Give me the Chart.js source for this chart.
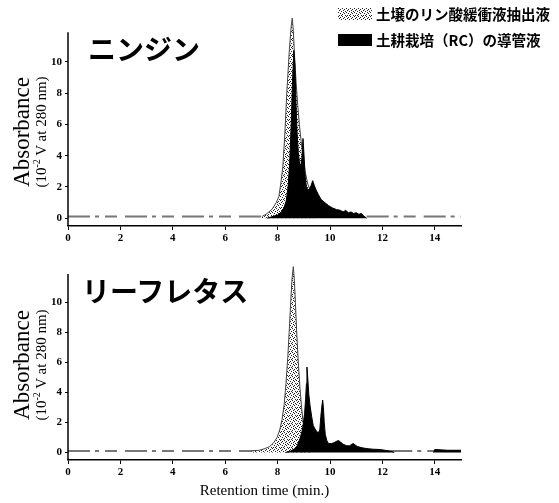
<!DOCTYPE html>
<html><head><meta charset="utf-8">
<script src="https://cdn.jsdelivr.net/npm/chart.js@4.4.0/dist/chart.umd.min.js"></script>
<style>
html,body{margin:0;padding:0;background:#fff;}
#wrap{position:relative;width:559px;height:503px;overflow:hidden;background:#fff;}
canvas{position:absolute;left:0;}
#c1{top:0;} #c2{top:248px;}
.jt{position:absolute;font-family:"Noto Sans CJK JP";font-weight:700;font-size:28px;line-height:1;color:#000;white-space:nowrap;}
.yt{position:absolute;font-family:"Liberation Serif";color:#000;white-space:nowrap;transform:translate(-50%,-50%) rotate(-90deg);line-height:1;}
.lg{position:absolute;left:338px;font-family:"Noto Sans CJK JP";font-weight:700;font-size:14.5px;line-height:1;display:flex;align-items:center;white-space:nowrap;}
.sw{display:inline-block;width:34px;height:12px;margin-right:4px;}
</style></head>
<body>
<div id="wrap">
<canvas id="c1" width="559" height="248"></canvas>
<canvas id="c2" width="559" height="255"></canvas>
<div class="jt" style="left:88px;top:34px;">ニンジン</div>
<div class="jt" style="left:82px;top:276px;">リーフレタス</div>
<div class="yt" style="left:21px;top:132px;font-size:23px;">Absorbance</div>
<div class="yt" style="left:40px;top:132px;font-size:15px;">(10<sup style="font-size:10px">-2</sup> V at 280 nm)</div>
<div class="yt" style="left:21px;top:365px;font-size:23px;">Absorbance</div>
<div class="yt" style="left:40px;top:365px;font-size:15px;">(10<sup style="font-size:10px">-2</sup> V at 280 nm)</div>
<div class="lg" style="top:7px;"><span class="sw" id="sw1"></span><span id="lt1"></span></div>
<div class="lg" style="top:33px;"><span class="sw" style="background:#000"></span><span id="lt2"></span></div>
</div>
<script>
// ---- data ----
const seriesNames = ['土壌のリン酸緩衝液抽出液', '土耕栽培（RC）の導管液'];
const xTickVals = [0, 2, 4, 6, 8, 10, 12, 14];
const yTickVals = [0, 2, 4, 6, 8, 10];

// ニンジン (carrot)
const carrotSoilT = [7.4, 7.6, 7.8, 7.95, 8.05, 8.12, 8.2, 8.27, 8.35, 8.45, 8.52, 8.56, 8.6, 8.65, 8.71, 8.77, 8.83, 8.9, 8.97, 9.05, 9.15, 9.3, 9.5];
const carrotSoilV = [0.1, 0.3, 0.6, 1.0, 1.4, 2.2, 3.3, 5.2, 8.0, 10.8, 12.3, 12.8, 12.0, 10.3, 8.6, 7.2, 6.0, 4.9, 4.0, 3.0, 2.2, 1.5, 0.9];
const carrotRCT = [7.6, 7.8, 8.0, 8.15, 8.25, 8.33, 8.4, 8.46, 8.52, 8.57, 8.62, 8.66, 8.7, 8.74, 8.79, 8.84, 8.89, 8.93, 8.97, 9.01, 9.05, 9.1, 9.16, 9.22, 9.28, 9.34, 9.4, 9.47, 9.56, 9.66, 9.8, 9.95, 10.1, 10.25, 10.4, 10.5, 10.6, 10.7, 10.8, 10.9, 11.0, 11.1, 11.2, 11.3, 11.4];
const carrotRCV = [0, 0.1, 0.2, 0.4, 0.7, 1.1, 2.0, 3.5, 6.0, 8.8, 10.7, 9.8, 7.5, 5.6, 4.2, 3.5, 3.4, 3.9, 5.1, 4.0, 2.7, 2.0, 1.8, 1.9, 2.1, 2.4, 2.1, 1.8, 1.5, 1.2, 1.0, 0.8, 0.65, 0.55, 0.5, 0.4, 0.5, 0.35, 0.4, 0.3, 0.35, 0.25, 0.3, 0.12, 0];
const carrotBaseT = [0, 7.7, 9, 11.4, 15];
const carrotBaseV = [0.1, 0.1, null, 0.1, 0.1];

// リーフレタス (leaf lettuce)
const lettuceSoilT = [7.0, 7.3, 7.5, 7.7, 7.85, 7.98, 8.08, 8.17, 8.25, 8.32, 8.39, 8.45, 8.5, 8.55, 8.6, 8.64, 8.68, 8.73, 8.79, 8.85, 8.91, 8.97, 9.05, 9.15, 9.3];
const lettuceSoilV = [0.1, 0.15, 0.25, 0.4, 0.65, 1.0, 1.5, 2.2, 3.2, 4.6, 6.4, 8.3, 10.0, 11.6, 12.4, 11.5, 10.0, 8.0, 6.0, 4.4, 3.1, 2.1, 1.4, 0.8, 0.3];
const lettuceRCT = [8.3, 8.5, 8.65, 8.75, 8.85, 8.93, 8.98, 9.03, 9.07, 9.1, 9.12, 9.15, 9.19, 9.24, 9.3, 9.36, 9.45, 9.55, 9.61, 9.65, 9.69, 9.72, 9.75, 9.78, 9.82, 9.88, 9.94, 10.05, 10.15, 10.25, 10.32, 10.4, 10.5, 10.64, 10.75, 10.83, 10.89, 10.96, 11.05, 11.15, 11.27, 11.45, 11.65, 11.9, 12.1, 12.3, 12.45, 13.2, 13.95, 14.0, 14.5, 15.0];
const lettuceRCV = [0, 0.1, 0.25, 0.45, 0.9, 1.4, 1.9, 2.6, 3.6, 4.6, 5.7, 5.0, 3.9, 3.1, 2.4, 1.8, 1.5, 1.3, 1.5, 2.4, 3.1, 3.5, 3.0, 2.0, 1.2, 0.8, 0.6, 0.6, 0.65, 0.75, 0.8, 0.7, 0.55, 0.45, 0.45, 0.55, 0.6, 0.5, 0.4, 0.35, 0.3, 0.25, 0.22, 0.2, 0.15, 0.1, 0, null, 0, 0.2, 0.15, 0.15];
const lettuceBaseT = [0, 7.2, 9, 12.3, 15];
const lettuceBaseV = [0.1, 0.1, null, 0.1, 0.1];

const yAxisTop = 11.9;

// ---- helpers ----
const pts = (t, v) => t.map((x, i) => ({x: x, y: v[i]}));

function makeStipple() {
  const n = 8;
  const c = document.createElement('canvas'); c.width = n; c.height = n;
  const g = c.getContext('2d');
  g.fillStyle = '#fff'; g.fillRect(0, 0, n, n); g.fillStyle = '#222';
  const bits = ['10001000', '00100010', '01000100', '00010001', '10000100', '00100010', '00001000', '01010001'];
  bits.forEach((row, j) => [...row].forEach((b, i) => { if (b === '1') g.fillRect(i, j, 1, 1); }));
  return c;
}
const stippleCanvas = makeStipple();
document.getElementById('sw1').style.backgroundImage = 'url(' + stippleCanvas.toDataURL() + ')';
document.getElementById('lt1').textContent = seriesNames[0];
document.getElementById('lt2').textContent = seriesNames[1];

const yAxisLine = {
  id: 'yAxisLine',
  afterDatasetsDraw(chart, args, opts) {
    const {ctx, chartArea: a, scales: {y}} = chart;
    ctx.save();
    ctx.strokeStyle = '#000'; ctx.lineWidth = 1.5;
    ctx.beginPath();
    ctx.moveTo(a.left, a.bottom);
    ctx.lineTo(a.left, y.getPixelForValue(opts.top));
    ctx.stroke();
    ctx.restore();
  }
};

const tickFont = {family: 'Liberation Serif', size: 11, weight: 'bold'};

function makeChart(id, soilT, soilV, rcT, rcV, baseT, baseV, padTop, xHeight, showTitle) {
  const canvas = document.getElementById(id);
  const pattern = canvas.getContext('2d').createPattern(stippleCanvas, 'repeat');
  return new Chart(canvas, {
    type: 'line',
    data: {
      datasets: [
        {label: 'baseline', data: pts(baseT, baseV), borderColor: '#777', borderWidth: 2,
         borderDash: [22, 5, 4, 6, 12, 8], pointRadius: 0, fill: false, order: 3, spanGaps: false},
        {label: seriesNames[0], data: pts(soilT, soilV), borderColor: '#444', borderWidth: 1,
         backgroundColor: pattern, fill: 'origin', pointRadius: 0, order: 2},
        {label: seriesNames[1], data: pts(rcT, rcV), borderColor: '#000', borderWidth: 1,
         backgroundColor: '#000', fill: 'origin', pointRadius: 0, order: 1, spanGaps: false}
      ]
    },
    options: {
      responsive: false, animation: false, events: [],
      layout: {padding: {left: 0, right: 98, top: padTop, bottom: 0}},
      plugins: {legend: {display: false}, tooltip: {enabled: false}, yAxisLine: {top: yAxisTop}},
      scales: {
        x: {
          type: 'linear', min: 0, max: 15,
          afterBuildTicks: s => { s.ticks = xTickVals.map(v => ({value: v})); },
          afterFit: s => { s.height = xHeight; },
          grid: {drawOnChartArea: false, drawTicks: true, tickLength: 4, color: '#000'},
          border: {display: true, color: '#000', width: 1.5},
          ticks: {color: '#000', font: tickFont, padding: 2, maxRotation: 0, autoSkip: false},
          title: {display: showTitle, text: 'Retention time (min.)', color: '#000',
                  font: {family: 'Liberation Serif', size: 15}, padding: {top: 0, bottom: 3}}
        },
        y: {
          type: 'linear', min: -0.5, max: 13,
          afterBuildTicks: s => { s.ticks = yTickVals.map(v => ({value: v})); },
          afterFit: s => { s.width = 68; },
          grid: {drawOnChartArea: false, drawTicks: true, tickLength: 3, color: '#000'},
          border: {display: false},
          ticks: {color: '#000', font: tickFont, padding: 3}
        }
      }
    },
    plugins: [yAxisLine]
  });
}

makeChart('c1', carrotSoilT, carrotSoilV, carrotRCT, carrotRCV, carrotBaseT, carrotBaseV, 15, 22, false);
makeChart('c2', lettuceSoilT, lettuceSoilV, lettuceRCT, lettuceRCV, lettuceBaseT, lettuceBaseV, 6, 43, true);
</script>
</body></html>
